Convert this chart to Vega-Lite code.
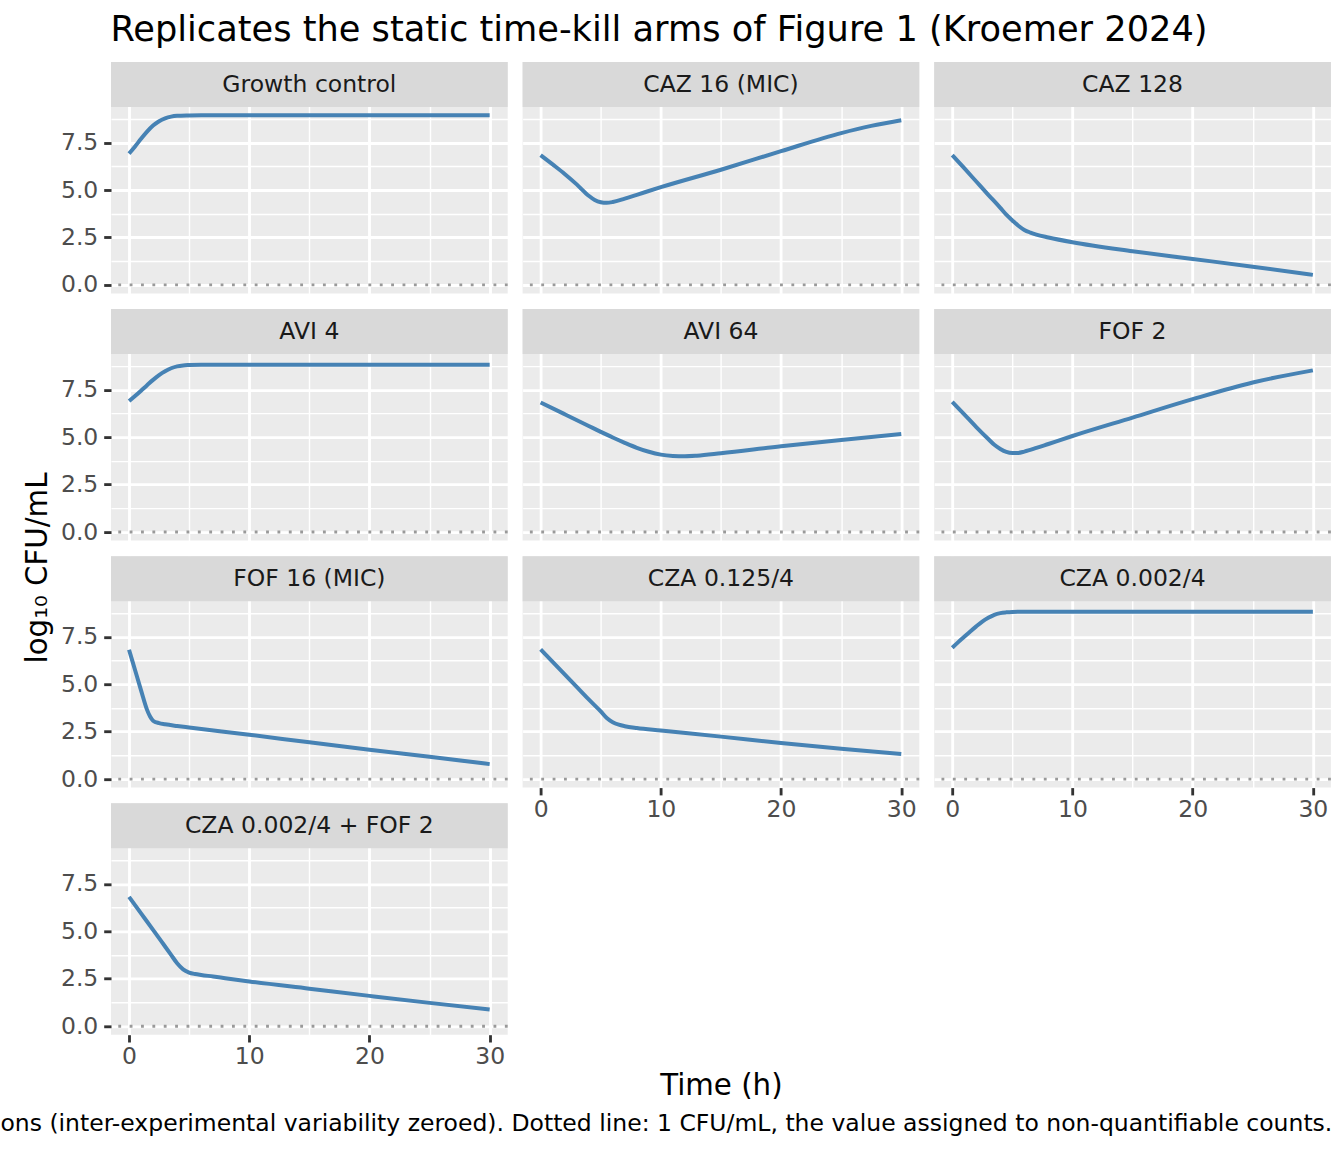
{
  "$schema": "https://vega.github.io/schema/vega-lite/v6.json",
  "background": "white",
  "padding": {"left": 0, "top": 12, "right": 0, "bottom": 0},
  "config": {
    "font": "DejaVu Sans",
    "view": {"stroke": null},
    "axis": {"domain": false, "labelFont": "DejaVu Sans", "labelFontSize": 23.5, "labelColor": "#4D4D4D",
             "tickColor": "#333333", "tickSize": 7.3, "tickWidth": 2.84, "labelPadding": 5.9,
             "grid": true, "gridColor": "#FFFFFF", "gridWidth": 2.84},
    "axisX": {"labelPadding": 2.9}
  },
  "title": {"text": "Replicates the static time-kill arms of Figure 1 (Kroemer 2024)", "anchor": "start",
            "fontSize": 35.2, "fontWeight": "normal", "color": "#000000", "dx": 110, "offset": 14},
  "datasets": {
    "curves": [
      {"arm": "Growth control", "time": 0, "log_cfu": 6.92}, {"arm": "Growth control", "time": 0.5, "log_cfu": 7.3},
      {"arm": "Growth control", "time": 1, "log_cfu": 7.7}, {"arm": "Growth control", "time": 1.5, "log_cfu": 8.08},
      {"arm": "Growth control", "time": 2, "log_cfu": 8.4}, {"arm": "Growth control", "time": 2.5, "log_cfu": 8.63},
      {"arm": "Growth control", "time": 3, "log_cfu": 8.78}, {"arm": "Growth control", "time": 3.5, "log_cfu": 8.87},
      {"arm": "Growth control", "time": 4, "log_cfu": 8.91}, {"arm": "Growth control", "time": 5, "log_cfu": 8.93},
      {"arm": "Growth control", "time": 6, "log_cfu": 8.94}, {"arm": "Growth control", "time": 10, "log_cfu": 8.94},
      {"arm": "Growth control", "time": 20, "log_cfu": 8.94}, {"arm": "Growth control", "time": 30, "log_cfu": 8.94},

      {"arm": "CAZ 16 (MIC)", "time": 0, "log_cfu": 6.84}, {"arm": "CAZ 16 (MIC)", "time": 1, "log_cfu": 6.35},
      {"arm": "CAZ 16 (MIC)", "time": 2, "log_cfu": 5.85}, {"arm": "CAZ 16 (MIC)", "time": 3, "log_cfu": 5.3},
      {"arm": "CAZ 16 (MIC)", "time": 4, "log_cfu": 4.7}, {"arm": "CAZ 16 (MIC)", "time": 4.5, "log_cfu": 4.47},
      {"arm": "CAZ 16 (MIC)", "time": 5, "log_cfu": 4.36}, {"arm": "CAZ 16 (MIC)", "time": 5.5, "log_cfu": 4.33},
      {"arm": "CAZ 16 (MIC)", "time": 6, "log_cfu": 4.37}, {"arm": "CAZ 16 (MIC)", "time": 7, "log_cfu": 4.55},
      {"arm": "CAZ 16 (MIC)", "time": 8, "log_cfu": 4.75}, {"arm": "CAZ 16 (MIC)", "time": 10, "log_cfu": 5.15},
      {"arm": "CAZ 16 (MIC)", "time": 15, "log_cfu": 6.07}, {"arm": "CAZ 16 (MIC)", "time": 20, "log_cfu": 7.05},
      {"arm": "CAZ 16 (MIC)", "time": 25, "log_cfu": 8.0}, {"arm": "CAZ 16 (MIC)", "time": 27.5, "log_cfu": 8.38},
      {"arm": "CAZ 16 (MIC)", "time": 30, "log_cfu": 8.68},

      {"arm": "CAZ 128", "time": 0, "log_cfu": 6.84}, {"arm": "CAZ 128", "time": 1, "log_cfu": 6.15},
      {"arm": "CAZ 128", "time": 2, "log_cfu": 5.45}, {"arm": "CAZ 128", "time": 3, "log_cfu": 4.75},
      {"arm": "CAZ 128", "time": 4, "log_cfu": 4.06}, {"arm": "CAZ 128", "time": 4.5, "log_cfu": 3.7},
      {"arm": "CAZ 128", "time": 5, "log_cfu": 3.4}, {"arm": "CAZ 128", "time": 5.5, "log_cfu": 3.12},
      {"arm": "CAZ 128", "time": 6, "log_cfu": 2.9}, {"arm": "CAZ 128", "time": 6.5, "log_cfu": 2.76},
      {"arm": "CAZ 128", "time": 7, "log_cfu": 2.65}, {"arm": "CAZ 128", "time": 8, "log_cfu": 2.5},
      {"arm": "CAZ 128", "time": 10, "log_cfu": 2.25}, {"arm": "CAZ 128", "time": 15, "log_cfu": 1.78},
      {"arm": "CAZ 128", "time": 20, "log_cfu": 1.37}, {"arm": "CAZ 128", "time": 25, "log_cfu": 0.96},
      {"arm": "CAZ 128", "time": 30, "log_cfu": 0.53},

      {"arm": "AVI 4", "time": 0, "log_cfu": 6.9}, {"arm": "AVI 4", "time": 0.5, "log_cfu": 7.17},
      {"arm": "AVI 4", "time": 1, "log_cfu": 7.45}, {"arm": "AVI 4", "time": 1.5, "log_cfu": 7.74},
      {"arm": "AVI 4", "time": 2, "log_cfu": 8.02}, {"arm": "AVI 4", "time": 2.5, "log_cfu": 8.27},
      {"arm": "AVI 4", "time": 3, "log_cfu": 8.47}, {"arm": "AVI 4", "time": 3.5, "log_cfu": 8.63},
      {"arm": "AVI 4", "time": 4, "log_cfu": 8.73}, {"arm": "AVI 4", "time": 4.5, "log_cfu": 8.78},
      {"arm": "AVI 4", "time": 5, "log_cfu": 8.8}, {"arm": "AVI 4", "time": 6, "log_cfu": 8.82},
      {"arm": "AVI 4", "time": 10, "log_cfu": 8.82}, {"arm": "AVI 4", "time": 20, "log_cfu": 8.82},
      {"arm": "AVI 4", "time": 30, "log_cfu": 8.82},

      {"arm": "AVI 64", "time": 0, "log_cfu": 6.83}, {"arm": "AVI 64", "time": 2, "log_cfu": 6.21},
      {"arm": "AVI 64", "time": 4, "log_cfu": 5.59}, {"arm": "AVI 64", "time": 5, "log_cfu": 5.28},
      {"arm": "AVI 64", "time": 6, "log_cfu": 4.98}, {"arm": "AVI 64", "time": 7, "log_cfu": 4.7},
      {"arm": "AVI 64", "time": 8, "log_cfu": 4.44}, {"arm": "AVI 64", "time": 9, "log_cfu": 4.23},
      {"arm": "AVI 64", "time": 10, "log_cfu": 4.08}, {"arm": "AVI 64", "time": 11, "log_cfu": 4.01},
      {"arm": "AVI 64", "time": 12, "log_cfu": 3.99}, {"arm": "AVI 64", "time": 13, "log_cfu": 4.02},
      {"arm": "AVI 64", "time": 15, "log_cfu": 4.15}, {"arm": "AVI 64", "time": 20, "log_cfu": 4.52},
      {"arm": "AVI 64", "time": 25, "log_cfu": 4.85}, {"arm": "AVI 64", "time": 30, "log_cfu": 5.16},

      {"arm": "FOF 2", "time": 0, "log_cfu": 6.86}, {"arm": "FOF 2", "time": 1, "log_cfu": 6.2},
      {"arm": "FOF 2", "time": 2, "log_cfu": 5.53}, {"arm": "FOF 2", "time": 3, "log_cfu": 4.9},
      {"arm": "FOF 2", "time": 3.5, "log_cfu": 4.6}, {"arm": "FOF 2", "time": 4, "log_cfu": 4.38},
      {"arm": "FOF 2", "time": 4.5, "log_cfu": 4.22}, {"arm": "FOF 2", "time": 5, "log_cfu": 4.16},
      {"arm": "FOF 2", "time": 5.5, "log_cfu": 4.17}, {"arm": "FOF 2", "time": 6, "log_cfu": 4.24},
      {"arm": "FOF 2", "time": 7, "log_cfu": 4.43}, {"arm": "FOF 2", "time": 8, "log_cfu": 4.64},
      {"arm": "FOF 2", "time": 10, "log_cfu": 5.06}, {"arm": "FOF 2", "time": 15, "log_cfu": 6.03},
      {"arm": "FOF 2", "time": 20, "log_cfu": 7.0}, {"arm": "FOF 2", "time": 25, "log_cfu": 7.88},
      {"arm": "FOF 2", "time": 30, "log_cfu": 8.52},

      {"arm": "FOF 16 (MIC)", "time": 0, "log_cfu": 6.82}, {"arm": "FOF 16 (MIC)", "time": 0.5, "log_cfu": 5.75},
      {"arm": "FOF 16 (MIC)", "time": 1, "log_cfu": 4.68}, {"arm": "FOF 16 (MIC)", "time": 1.5, "log_cfu": 3.65},
      {"arm": "FOF 16 (MIC)", "time": 1.75, "log_cfu": 3.3}, {"arm": "FOF 16 (MIC)", "time": 2, "log_cfu": 3.08},
      {"arm": "FOF 16 (MIC)", "time": 2.5, "log_cfu": 2.95}, {"arm": "FOF 16 (MIC)", "time": 3, "log_cfu": 2.89},
      {"arm": "FOF 16 (MIC)", "time": 4, "log_cfu": 2.8}, {"arm": "FOF 16 (MIC)", "time": 5, "log_cfu": 2.72},
      {"arm": "FOF 16 (MIC)", "time": 10, "log_cfu": 2.34}, {"arm": "FOF 16 (MIC)", "time": 15, "log_cfu": 1.94},
      {"arm": "FOF 16 (MIC)", "time": 20, "log_cfu": 1.55}, {"arm": "FOF 16 (MIC)", "time": 25, "log_cfu": 1.18},
      {"arm": "FOF 16 (MIC)", "time": 30, "log_cfu": 0.79},

      {"arm": "CZA 0.125/4", "time": 0, "log_cfu": 6.84}, {"arm": "CZA 0.125/4", "time": 1, "log_cfu": 6.18},
      {"arm": "CZA 0.125/4", "time": 2, "log_cfu": 5.52}, {"arm": "CZA 0.125/4", "time": 3, "log_cfu": 4.86},
      {"arm": "CZA 0.125/4", "time": 4, "log_cfu": 4.2}, {"arm": "CZA 0.125/4", "time": 5, "log_cfu": 3.57},
      {"arm": "CZA 0.125/4", "time": 5.5, "log_cfu": 3.22}, {"arm": "CZA 0.125/4", "time": 6, "log_cfu": 3.0},
      {"arm": "CZA 0.125/4", "time": 6.5, "log_cfu": 2.87}, {"arm": "CZA 0.125/4", "time": 7, "log_cfu": 2.79},
      {"arm": "CZA 0.125/4", "time": 8, "log_cfu": 2.69}, {"arm": "CZA 0.125/4", "time": 10, "log_cfu": 2.56},
      {"arm": "CZA 0.125/4", "time": 15, "log_cfu": 2.24}, {"arm": "CZA 0.125/4", "time": 20, "log_cfu": 1.9},
      {"arm": "CZA 0.125/4", "time": 25, "log_cfu": 1.6}, {"arm": "CZA 0.125/4", "time": 30, "log_cfu": 1.32},

      {"arm": "CZA 0.002/4", "time": 0, "log_cfu": 6.92}, {"arm": "CZA 0.002/4", "time": 0.5, "log_cfu": 7.22},
      {"arm": "CZA 0.002/4", "time": 1, "log_cfu": 7.5}, {"arm": "CZA 0.002/4", "time": 1.5, "log_cfu": 7.78},
      {"arm": "CZA 0.002/4", "time": 2, "log_cfu": 8.05}, {"arm": "CZA 0.002/4", "time": 2.5, "log_cfu": 8.3},
      {"arm": "CZA 0.002/4", "time": 3, "log_cfu": 8.5}, {"arm": "CZA 0.002/4", "time": 3.5, "log_cfu": 8.66},
      {"arm": "CZA 0.002/4", "time": 4, "log_cfu": 8.75}, {"arm": "CZA 0.002/4", "time": 4.5, "log_cfu": 8.79},
      {"arm": "CZA 0.002/4", "time": 5, "log_cfu": 8.81}, {"arm": "CZA 0.002/4", "time": 6, "log_cfu": 8.82},
      {"arm": "CZA 0.002/4", "time": 10, "log_cfu": 8.82}, {"arm": "CZA 0.002/4", "time": 20, "log_cfu": 8.82},
      {"arm": "CZA 0.002/4", "time": 30, "log_cfu": 8.82},

      {"arm": "CZA 0.002/4 + FOF 2", "time": 0, "log_cfu": 6.82}, {"arm": "CZA 0.002/4 + FOF 2", "time": 1, "log_cfu": 5.95},
      {"arm": "CZA 0.002/4 + FOF 2", "time": 2, "log_cfu": 5.08}, {"arm": "CZA 0.002/4 + FOF 2", "time": 3, "log_cfu": 4.2},
      {"arm": "CZA 0.002/4 + FOF 2", "time": 3.5, "log_cfu": 3.76}, {"arm": "CZA 0.002/4 + FOF 2", "time": 4, "log_cfu": 3.32},
      {"arm": "CZA 0.002/4 + FOF 2", "time": 4.5, "log_cfu": 3.0}, {"arm": "CZA 0.002/4 + FOF 2", "time": 5, "log_cfu": 2.83},
      {"arm": "CZA 0.002/4 + FOF 2", "time": 5.5, "log_cfu": 2.75}, {"arm": "CZA 0.002/4 + FOF 2", "time": 6, "log_cfu": 2.7},
      {"arm": "CZA 0.002/4 + FOF 2", "time": 7, "log_cfu": 2.62}, {"arm": "CZA 0.002/4 + FOF 2", "time": 8, "log_cfu": 2.53},
      {"arm": "CZA 0.002/4 + FOF 2", "time": 10, "log_cfu": 2.36}, {"arm": "CZA 0.002/4 + FOF 2", "time": 15, "log_cfu": 1.98},
      {"arm": "CZA 0.002/4 + FOF 2", "time": 20, "log_cfu": 1.6}, {"arm": "CZA 0.002/4 + FOF 2", "time": 25, "log_cfu": 1.23},
      {"arm": "CZA 0.002/4 + FOF 2", "time": 30, "log_cfu": 0.88}
    ]
  },
  "vconcat": [
    {
      "title": {"text": "ons (inter-experimental variability zeroed). Dotted line: 1 CFU/mL, the value assigned to non-quantifiable counts.",
                "orient": "bottom", "anchor": "end", "fontSize": 23.5, "fontWeight": "normal", "color": "#000000", "offset": 10},
      "spacing": 6,
      "hconcat": [
        {
          "data": {"values": [{"label": "log₁₀ CFU/mL"}]},
          "width": 40,
          "height": 1012,
          "mark": {"type": "text", "angle": 270, "fontSize": 29.3, "color": "#000000", "baseline": "middle", "dy": 17},
          "encoding": {"text": {"field": "label"}}
        },
        {
          "data": {"name": "curves"},
          "columns": 3,
          "bounds": "flush",
          "spacing": {"row": 15.1, "column": 14.6},
          "title": {"text": "Time (h)", "orient": "bottom", "anchor": "middle", "dx": 25,
                    "fontSize": 29.3, "fontWeight": "normal", "color": "#000000", "offset": 4},
          "concat": [
            {
              "transform": [{"filter": "datum.arm === 'Growth control'"}],
              "width": 396.7, "height": 231.4,
              "view": {"fill": "#EBEBEB", "stroke": null},
              "resolve": {"axis": {"x": "independent", "y": "independent"}},
              "layer": [
                {"mark": {"type": "line", "color": "#4682B4", "strokeWidth": 4, "interpolate": "monotone"},
                 "encoding": {
                   "x": {"field": "time", "type": "quantitative", "scale": {"domain": [-1.5, 31.5], "nice": false, "zero": false},
                         "axis": {"values": [0, 10, 20, 30], "labels": false, "ticks": false, "title": null}},
                   "y": {"field": "log_cfu", "type": "quantitative", "scale": {"domain": [-0.4465, 11.748], "nice": false, "zero": false},
                         "axis": {"values": [0, 2.5, 5, 7.5], "format": ".1f", "title": null}}}},
                {"mark": {"type": "point", "opacity": 0},
                 "encoding": {
                   "x": {"field": "time", "type": "quantitative", "axis": {"values": [5, 15, 25], "grid": true, "gridWidth": 1.42, "ticks": false, "labels": false, "title": null}},
                   "y": {"field": "log_cfu", "type": "quantitative", "axis": {"values": [1.25, 3.75, 6.25, 8.75], "grid": true, "gridWidth": 1.42, "ticks": false, "labels": false, "title": null}}}},
                {"transform": [{"filter": "datum.time === 0"}],
                 "mark": {"type": "rect", "fill": "#D9D9D9", "stroke": null},
                 "encoding": {
                   "x": {"datum": -1.5, "type": "quantitative", "axis": null}, "x2": {"datum": 31.5},
                   "y": {"datum": 9.3765, "type": "quantitative", "axis": null}, "y2": {"datum": 11.748}}},
                {"transform": [{"filter": "datum.time === 0"}],
                 "mark": {"type": "rule", "color": "#999999", "strokeWidth": 2.84, "strokeDash": [2.84, 8.53]},
                 "encoding": {"y": {"datum": 0, "type": "quantitative", "axis": null}}},
                {"transform": [{"filter": "datum.time === 0"}],
                 "mark": {"type": "text", "fontSize": 23.5, "color": "#1A1A1A", "baseline": "middle"},
                 "encoding": {"x": {"datum": 15, "type": "quantitative", "axis": null},
                              "y": {"datum": 10.562, "type": "quantitative", "axis": null},
                              "text": {"field": "arm"}}}
              ]
            },
            {
              "transform": [{"filter": "datum.arm === 'CAZ 16 (MIC)'"}],
              "width": 396.7, "height": 231.4,
              "view": {"fill": "#EBEBEB", "stroke": null},
              "resolve": {"axis": {"x": "independent", "y": "independent"}},
              "layer": [
                {"mark": {"type": "line", "color": "#4682B4", "strokeWidth": 4, "interpolate": "monotone"},
                 "encoding": {
                   "x": {"field": "time", "type": "quantitative", "scale": {"domain": [-1.5, 31.5], "nice": false, "zero": false},
                         "axis": {"values": [0, 10, 20, 30], "labels": false, "ticks": false, "title": null}},
                   "y": {"field": "log_cfu", "type": "quantitative", "scale": {"domain": [-0.4465, 11.748], "nice": false, "zero": false},
                         "axis": {"values": [0, 2.5, 5, 7.5], "labels": false, "ticks": false, "title": null}}}},
                {"mark": {"type": "point", "opacity": 0},
                 "encoding": {
                   "x": {"field": "time", "type": "quantitative", "axis": {"values": [5, 15, 25], "grid": true, "gridWidth": 1.42, "ticks": false, "labels": false, "title": null}},
                   "y": {"field": "log_cfu", "type": "quantitative", "axis": {"values": [1.25, 3.75, 6.25, 8.75], "grid": true, "gridWidth": 1.42, "ticks": false, "labels": false, "title": null}}}},
                {"transform": [{"filter": "datum.time === 0"}],
                 "mark": {"type": "rect", "fill": "#D9D9D9", "stroke": null},
                 "encoding": {
                   "x": {"datum": -1.5, "type": "quantitative", "axis": null}, "x2": {"datum": 31.5},
                   "y": {"datum": 9.3765, "type": "quantitative", "axis": null}, "y2": {"datum": 11.748}}},
                {"transform": [{"filter": "datum.time === 0"}],
                 "mark": {"type": "rule", "color": "#999999", "strokeWidth": 2.84, "strokeDash": [2.84, 8.53]},
                 "encoding": {"y": {"datum": 0, "type": "quantitative", "axis": null}}},
                {"transform": [{"filter": "datum.time === 0"}],
                 "mark": {"type": "text", "fontSize": 23.5, "color": "#1A1A1A", "baseline": "middle"},
                 "encoding": {"x": {"datum": 15, "type": "quantitative", "axis": null},
                              "y": {"datum": 10.562, "type": "quantitative", "axis": null},
                              "text": {"field": "arm"}}}
              ]
            },
            {
              "transform": [{"filter": "datum.arm === 'CAZ 128'"}],
              "width": 396.7, "height": 231.4,
              "view": {"fill": "#EBEBEB", "stroke": null},
              "resolve": {"axis": {"x": "independent", "y": "independent"}},
              "layer": [
                {"mark": {"type": "line", "color": "#4682B4", "strokeWidth": 4, "interpolate": "monotone"},
                 "encoding": {
                   "x": {"field": "time", "type": "quantitative", "scale": {"domain": [-1.5, 31.5], "nice": false, "zero": false},
                         "axis": {"values": [0, 10, 20, 30], "labels": false, "ticks": false, "title": null}},
                   "y": {"field": "log_cfu", "type": "quantitative", "scale": {"domain": [-0.4465, 11.748], "nice": false, "zero": false},
                         "axis": {"values": [0, 2.5, 5, 7.5], "labels": false, "ticks": false, "title": null}}}},
                {"mark": {"type": "point", "opacity": 0},
                 "encoding": {
                   "x": {"field": "time", "type": "quantitative", "axis": {"values": [5, 15, 25], "grid": true, "gridWidth": 1.42, "ticks": false, "labels": false, "title": null}},
                   "y": {"field": "log_cfu", "type": "quantitative", "axis": {"values": [1.25, 3.75, 6.25, 8.75], "grid": true, "gridWidth": 1.42, "ticks": false, "labels": false, "title": null}}}},
                {"transform": [{"filter": "datum.time === 0"}],
                 "mark": {"type": "rect", "fill": "#D9D9D9", "stroke": null},
                 "encoding": {
                   "x": {"datum": -1.5, "type": "quantitative", "axis": null}, "x2": {"datum": 31.5},
                   "y": {"datum": 9.3765, "type": "quantitative", "axis": null}, "y2": {"datum": 11.748}}},
                {"transform": [{"filter": "datum.time === 0"}],
                 "mark": {"type": "rule", "color": "#999999", "strokeWidth": 2.84, "strokeDash": [2.84, 8.53]},
                 "encoding": {"y": {"datum": 0, "type": "quantitative", "axis": null}}},
                {"transform": [{"filter": "datum.time === 0"}],
                 "mark": {"type": "text", "fontSize": 23.5, "color": "#1A1A1A", "baseline": "middle"},
                 "encoding": {"x": {"datum": 15, "type": "quantitative", "axis": null},
                              "y": {"datum": 10.562, "type": "quantitative", "axis": null},
                              "text": {"field": "arm"}}}
              ]
            },
            {
              "transform": [{"filter": "datum.arm === 'AVI 4'"}],
              "width": 396.7, "height": 231.4,
              "view": {"fill": "#EBEBEB", "stroke": null},
              "resolve": {"axis": {"x": "independent", "y": "independent"}},
              "layer": [
                {"mark": {"type": "line", "color": "#4682B4", "strokeWidth": 4, "interpolate": "monotone"},
                 "encoding": {
                   "x": {"field": "time", "type": "quantitative", "scale": {"domain": [-1.5, 31.5], "nice": false, "zero": false},
                         "axis": {"values": [0, 10, 20, 30], "labels": false, "ticks": false, "title": null}},
                   "y": {"field": "log_cfu", "type": "quantitative", "scale": {"domain": [-0.4465, 11.748], "nice": false, "zero": false},
                         "axis": {"values": [0, 2.5, 5, 7.5], "format": ".1f", "title": null}}}},
                {"mark": {"type": "point", "opacity": 0},
                 "encoding": {
                   "x": {"field": "time", "type": "quantitative", "axis": {"values": [5, 15, 25], "grid": true, "gridWidth": 1.42, "ticks": false, "labels": false, "title": null}},
                   "y": {"field": "log_cfu", "type": "quantitative", "axis": {"values": [1.25, 3.75, 6.25, 8.75], "grid": true, "gridWidth": 1.42, "ticks": false, "labels": false, "title": null}}}},
                {"transform": [{"filter": "datum.time === 0"}],
                 "mark": {"type": "rect", "fill": "#D9D9D9", "stroke": null},
                 "encoding": {
                   "x": {"datum": -1.5, "type": "quantitative", "axis": null}, "x2": {"datum": 31.5},
                   "y": {"datum": 9.3765, "type": "quantitative", "axis": null}, "y2": {"datum": 11.748}}},
                {"transform": [{"filter": "datum.time === 0"}],
                 "mark": {"type": "rule", "color": "#999999", "strokeWidth": 2.84, "strokeDash": [2.84, 8.53]},
                 "encoding": {"y": {"datum": 0, "type": "quantitative", "axis": null}}},
                {"transform": [{"filter": "datum.time === 0"}],
                 "mark": {"type": "text", "fontSize": 23.5, "color": "#1A1A1A", "baseline": "middle"},
                 "encoding": {"x": {"datum": 15, "type": "quantitative", "axis": null},
                              "y": {"datum": 10.562, "type": "quantitative", "axis": null},
                              "text": {"field": "arm"}}}
              ]
            },
            {
              "transform": [{"filter": "datum.arm === 'AVI 64'"}],
              "width": 396.7, "height": 231.4,
              "view": {"fill": "#EBEBEB", "stroke": null},
              "resolve": {"axis": {"x": "independent", "y": "independent"}},
              "layer": [
                {"mark": {"type": "line", "color": "#4682B4", "strokeWidth": 4, "interpolate": "monotone"},
                 "encoding": {
                   "x": {"field": "time", "type": "quantitative", "scale": {"domain": [-1.5, 31.5], "nice": false, "zero": false},
                         "axis": {"values": [0, 10, 20, 30], "labels": false, "ticks": false, "title": null}},
                   "y": {"field": "log_cfu", "type": "quantitative", "scale": {"domain": [-0.4465, 11.748], "nice": false, "zero": false},
                         "axis": {"values": [0, 2.5, 5, 7.5], "labels": false, "ticks": false, "title": null}}}},
                {"mark": {"type": "point", "opacity": 0},
                 "encoding": {
                   "x": {"field": "time", "type": "quantitative", "axis": {"values": [5, 15, 25], "grid": true, "gridWidth": 1.42, "ticks": false, "labels": false, "title": null}},
                   "y": {"field": "log_cfu", "type": "quantitative", "axis": {"values": [1.25, 3.75, 6.25, 8.75], "grid": true, "gridWidth": 1.42, "ticks": false, "labels": false, "title": null}}}},
                {"transform": [{"filter": "datum.time === 0"}],
                 "mark": {"type": "rect", "fill": "#D9D9D9", "stroke": null},
                 "encoding": {
                   "x": {"datum": -1.5, "type": "quantitative", "axis": null}, "x2": {"datum": 31.5},
                   "y": {"datum": 9.3765, "type": "quantitative", "axis": null}, "y2": {"datum": 11.748}}},
                {"transform": [{"filter": "datum.time === 0"}],
                 "mark": {"type": "rule", "color": "#999999", "strokeWidth": 2.84, "strokeDash": [2.84, 8.53]},
                 "encoding": {"y": {"datum": 0, "type": "quantitative", "axis": null}}},
                {"transform": [{"filter": "datum.time === 0"}],
                 "mark": {"type": "text", "fontSize": 23.5, "color": "#1A1A1A", "baseline": "middle"},
                 "encoding": {"x": {"datum": 15, "type": "quantitative", "axis": null},
                              "y": {"datum": 10.562, "type": "quantitative", "axis": null},
                              "text": {"field": "arm"}}}
              ]
            },
            {
              "transform": [{"filter": "datum.arm === 'FOF 2'"}],
              "width": 396.7, "height": 231.4,
              "view": {"fill": "#EBEBEB", "stroke": null},
              "resolve": {"axis": {"x": "independent", "y": "independent"}},
              "layer": [
                {"mark": {"type": "line", "color": "#4682B4", "strokeWidth": 4, "interpolate": "monotone"},
                 "encoding": {
                   "x": {"field": "time", "type": "quantitative", "scale": {"domain": [-1.5, 31.5], "nice": false, "zero": false},
                         "axis": {"values": [0, 10, 20, 30], "labels": false, "ticks": false, "title": null}},
                   "y": {"field": "log_cfu", "type": "quantitative", "scale": {"domain": [-0.4465, 11.748], "nice": false, "zero": false},
                         "axis": {"values": [0, 2.5, 5, 7.5], "labels": false, "ticks": false, "title": null}}}},
                {"mark": {"type": "point", "opacity": 0},
                 "encoding": {
                   "x": {"field": "time", "type": "quantitative", "axis": {"values": [5, 15, 25], "grid": true, "gridWidth": 1.42, "ticks": false, "labels": false, "title": null}},
                   "y": {"field": "log_cfu", "type": "quantitative", "axis": {"values": [1.25, 3.75, 6.25, 8.75], "grid": true, "gridWidth": 1.42, "ticks": false, "labels": false, "title": null}}}},
                {"transform": [{"filter": "datum.time === 0"}],
                 "mark": {"type": "rect", "fill": "#D9D9D9", "stroke": null},
                 "encoding": {
                   "x": {"datum": -1.5, "type": "quantitative", "axis": null}, "x2": {"datum": 31.5},
                   "y": {"datum": 9.3765, "type": "quantitative", "axis": null}, "y2": {"datum": 11.748}}},
                {"transform": [{"filter": "datum.time === 0"}],
                 "mark": {"type": "rule", "color": "#999999", "strokeWidth": 2.84, "strokeDash": [2.84, 8.53]},
                 "encoding": {"y": {"datum": 0, "type": "quantitative", "axis": null}}},
                {"transform": [{"filter": "datum.time === 0"}],
                 "mark": {"type": "text", "fontSize": 23.5, "color": "#1A1A1A", "baseline": "middle"},
                 "encoding": {"x": {"datum": 15, "type": "quantitative", "axis": null},
                              "y": {"datum": 10.562, "type": "quantitative", "axis": null},
                              "text": {"field": "arm"}}}
              ]
            },
            {
              "transform": [{"filter": "datum.arm === 'FOF 16 (MIC)'"}],
              "width": 396.7, "height": 231.4,
              "view": {"fill": "#EBEBEB", "stroke": null},
              "resolve": {"axis": {"x": "independent", "y": "independent"}},
              "layer": [
                {"mark": {"type": "line", "color": "#4682B4", "strokeWidth": 4, "interpolate": "monotone"},
                 "encoding": {
                   "x": {"field": "time", "type": "quantitative", "scale": {"domain": [-1.5, 31.5], "nice": false, "zero": false},
                         "axis": {"values": [0, 10, 20, 30], "labels": false, "ticks": false, "title": null}},
                   "y": {"field": "log_cfu", "type": "quantitative", "scale": {"domain": [-0.4465, 11.748], "nice": false, "zero": false},
                         "axis": {"values": [0, 2.5, 5, 7.5], "format": ".1f", "title": null}}}},
                {"mark": {"type": "point", "opacity": 0},
                 "encoding": {
                   "x": {"field": "time", "type": "quantitative", "axis": {"values": [5, 15, 25], "grid": true, "gridWidth": 1.42, "ticks": false, "labels": false, "title": null}},
                   "y": {"field": "log_cfu", "type": "quantitative", "axis": {"values": [1.25, 3.75, 6.25, 8.75], "grid": true, "gridWidth": 1.42, "ticks": false, "labels": false, "title": null}}}},
                {"transform": [{"filter": "datum.time === 0"}],
                 "mark": {"type": "rect", "fill": "#D9D9D9", "stroke": null},
                 "encoding": {
                   "x": {"datum": -1.5, "type": "quantitative", "axis": null}, "x2": {"datum": 31.5},
                   "y": {"datum": 9.3765, "type": "quantitative", "axis": null}, "y2": {"datum": 11.748}}},
                {"transform": [{"filter": "datum.time === 0"}],
                 "mark": {"type": "rule", "color": "#999999", "strokeWidth": 2.84, "strokeDash": [2.84, 8.53]},
                 "encoding": {"y": {"datum": 0, "type": "quantitative", "axis": null}}},
                {"transform": [{"filter": "datum.time === 0"}],
                 "mark": {"type": "text", "fontSize": 23.5, "color": "#1A1A1A", "baseline": "middle"},
                 "encoding": {"x": {"datum": 15, "type": "quantitative", "axis": null},
                              "y": {"datum": 10.562, "type": "quantitative", "axis": null},
                              "text": {"field": "arm"}}}
              ]
            },
            {
              "transform": [{"filter": "datum.arm === 'CZA 0.125/4'"}],
              "width": 396.7, "height": 231.4,
              "view": {"fill": "#EBEBEB", "stroke": null},
              "resolve": {"axis": {"x": "independent", "y": "independent"}},
              "layer": [
                {"mark": {"type": "line", "color": "#4682B4", "strokeWidth": 4, "interpolate": "monotone"},
                 "encoding": {
                   "x": {"field": "time", "type": "quantitative", "scale": {"domain": [-1.5, 31.5], "nice": false, "zero": false},
                         "axis": {"values": [0, 10, 20, 30], "title": null}},
                   "y": {"field": "log_cfu", "type": "quantitative", "scale": {"domain": [-0.4465, 11.748], "nice": false, "zero": false},
                         "axis": {"values": [0, 2.5, 5, 7.5], "labels": false, "ticks": false, "title": null}}}},
                {"mark": {"type": "point", "opacity": 0},
                 "encoding": {
                   "x": {"field": "time", "type": "quantitative", "axis": {"values": [5, 15, 25], "grid": true, "gridWidth": 1.42, "ticks": false, "labels": false, "title": null}},
                   "y": {"field": "log_cfu", "type": "quantitative", "axis": {"values": [1.25, 3.75, 6.25, 8.75], "grid": true, "gridWidth": 1.42, "ticks": false, "labels": false, "title": null}}}},
                {"transform": [{"filter": "datum.time === 0"}],
                 "mark": {"type": "rect", "fill": "#D9D9D9", "stroke": null},
                 "encoding": {
                   "x": {"datum": -1.5, "type": "quantitative", "axis": null}, "x2": {"datum": 31.5},
                   "y": {"datum": 9.3765, "type": "quantitative", "axis": null}, "y2": {"datum": 11.748}}},
                {"transform": [{"filter": "datum.time === 0"}],
                 "mark": {"type": "rule", "color": "#999999", "strokeWidth": 2.84, "strokeDash": [2.84, 8.53]},
                 "encoding": {"y": {"datum": 0, "type": "quantitative", "axis": null}}},
                {"transform": [{"filter": "datum.time === 0"}],
                 "mark": {"type": "text", "fontSize": 23.5, "color": "#1A1A1A", "baseline": "middle"},
                 "encoding": {"x": {"datum": 15, "type": "quantitative", "axis": null},
                              "y": {"datum": 10.562, "type": "quantitative", "axis": null},
                              "text": {"field": "arm"}}}
              ]
            },
            {
              "transform": [{"filter": "datum.arm === 'CZA 0.002/4'"}],
              "width": 396.7, "height": 231.4,
              "view": {"fill": "#EBEBEB", "stroke": null},
              "resolve": {"axis": {"x": "independent", "y": "independent"}},
              "layer": [
                {"mark": {"type": "line", "color": "#4682B4", "strokeWidth": 4, "interpolate": "monotone"},
                 "encoding": {
                   "x": {"field": "time", "type": "quantitative", "scale": {"domain": [-1.5, 31.5], "nice": false, "zero": false},
                         "axis": {"values": [0, 10, 20, 30], "title": null}},
                   "y": {"field": "log_cfu", "type": "quantitative", "scale": {"domain": [-0.4465, 11.748], "nice": false, "zero": false},
                         "axis": {"values": [0, 2.5, 5, 7.5], "labels": false, "ticks": false, "title": null}}}},
                {"mark": {"type": "point", "opacity": 0},
                 "encoding": {
                   "x": {"field": "time", "type": "quantitative", "axis": {"values": [5, 15, 25], "grid": true, "gridWidth": 1.42, "ticks": false, "labels": false, "title": null}},
                   "y": {"field": "log_cfu", "type": "quantitative", "axis": {"values": [1.25, 3.75, 6.25, 8.75], "grid": true, "gridWidth": 1.42, "ticks": false, "labels": false, "title": null}}}},
                {"transform": [{"filter": "datum.time === 0"}],
                 "mark": {"type": "rect", "fill": "#D9D9D9", "stroke": null},
                 "encoding": {
                   "x": {"datum": -1.5, "type": "quantitative", "axis": null}, "x2": {"datum": 31.5},
                   "y": {"datum": 9.3765, "type": "quantitative", "axis": null}, "y2": {"datum": 11.748}}},
                {"transform": [{"filter": "datum.time === 0"}],
                 "mark": {"type": "rule", "color": "#999999", "strokeWidth": 2.84, "strokeDash": [2.84, 8.53]},
                 "encoding": {"y": {"datum": 0, "type": "quantitative", "axis": null}}},
                {"transform": [{"filter": "datum.time === 0"}],
                 "mark": {"type": "text", "fontSize": 23.5, "color": "#1A1A1A", "baseline": "middle"},
                 "encoding": {"x": {"datum": 15, "type": "quantitative", "axis": null},
                              "y": {"datum": 10.562, "type": "quantitative", "axis": null},
                              "text": {"field": "arm"}}}
              ]
            },
            {
              "transform": [{"filter": "datum.arm === 'CZA 0.002/4 + FOF 2'"}],
              "width": 396.7, "height": 231.4,
              "view": {"fill": "#EBEBEB", "stroke": null},
              "resolve": {"axis": {"x": "independent", "y": "independent"}},
              "layer": [
                {"mark": {"type": "line", "color": "#4682B4", "strokeWidth": 4, "interpolate": "monotone"},
                 "encoding": {
                   "x": {"field": "time", "type": "quantitative", "scale": {"domain": [-1.5, 31.5], "nice": false, "zero": false},
                         "axis": {"values": [0, 10, 20, 30], "title": null}},
                   "y": {"field": "log_cfu", "type": "quantitative", "scale": {"domain": [-0.4465, 11.748], "nice": false, "zero": false},
                         "axis": {"values": [0, 2.5, 5, 7.5], "format": ".1f", "title": null}}}},
                {"mark": {"type": "point", "opacity": 0},
                 "encoding": {
                   "x": {"field": "time", "type": "quantitative", "axis": {"values": [5, 15, 25], "grid": true, "gridWidth": 1.42, "ticks": false, "labels": false, "title": null}},
                   "y": {"field": "log_cfu", "type": "quantitative", "axis": {"values": [1.25, 3.75, 6.25, 8.75], "grid": true, "gridWidth": 1.42, "ticks": false, "labels": false, "title": null}}}},
                {"transform": [{"filter": "datum.time === 0"}],
                 "mark": {"type": "rect", "fill": "#D9D9D9", "stroke": null},
                 "encoding": {
                   "x": {"datum": -1.5, "type": "quantitative", "axis": null}, "x2": {"datum": 31.5},
                   "y": {"datum": 9.3765, "type": "quantitative", "axis": null}, "y2": {"datum": 11.748}}},
                {"transform": [{"filter": "datum.time === 0"}],
                 "mark": {"type": "rule", "color": "#999999", "strokeWidth": 2.84, "strokeDash": [2.84, 8.53]},
                 "encoding": {"y": {"datum": 0, "type": "quantitative", "axis": null}}},
                {"transform": [{"filter": "datum.time === 0"}],
                 "mark": {"type": "text", "fontSize": 23.5, "color": "#1A1A1A", "baseline": "middle"},
                 "encoding": {"x": {"datum": 15, "type": "quantitative", "axis": null},
                              "y": {"datum": 10.562, "type": "quantitative", "axis": null},
                              "text": {"field": "arm"}}}
              ]
            }
          ]
        }
      ]
    }
  ]
}
